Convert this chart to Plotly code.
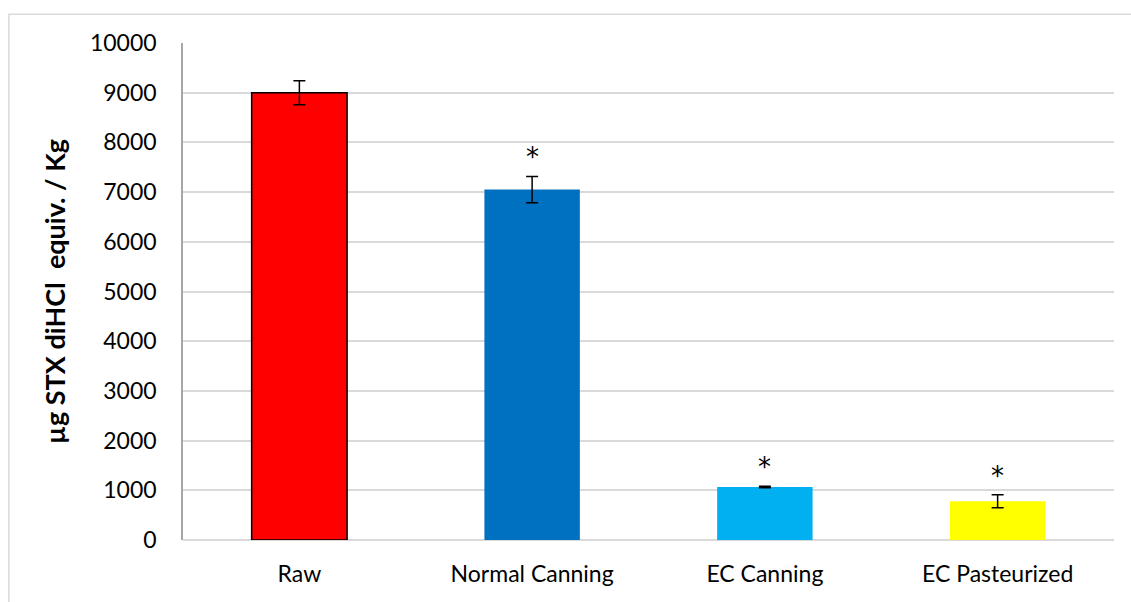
import plotly.graph_objects as go

# Saxitoxin content per treatment
categories = ["Raw", "Normal Canning", "EC Canning", "EC Pasteurized"]
values = [9000, 7050, 1065, 780]
errors = [240, 265, 15, 130]
significant = [False, True, True, True]
colors = ["#FF0000", "#0070C0", "#00B0F0", "#FFFF00"]
outline_widths = [1.5, 0, 0, 0]

y_ticks = list(range(0, 10001, 1000))
y_tick_text = [str(v) for v in y_ticks]

FONT = "Lato"

fig = go.Figure()
fig.add_trace(go.Bar(
    x=categories,
    y=values,
    width=0.41,
    marker=dict(color=colors, line=dict(color="black", width=outline_widths)),
    error_y=dict(type="data", array=errors, visible=True,
                 color="black", thickness=1.5, width=6),
    hoverinfo="x+y",
))

# significance markers above the error bars
for cat, v, e, sig in zip(categories, values, errors, significant):
    if sig:
        fig.add_annotation(x=cat, y=v + e, text="*", showarrow=False,
                           yanchor="middle", yshift=19,
                           font=dict(family="DejaVu Sans", size=26, color="black"))

# outer chart frame
fig.add_shape(type="rect", xref="paper", yref="paper",
              x0=-0.187, x1=1.05, y0=-0.2, y1=1.058,
              line=dict(color="#d9d9d9", width=1.5), fillcolor="rgba(0,0,0,0)",
              layer="below")

fig.update_layout(
    width=1131, height=602,
    margin=dict(l=183, r=17, t=43, b=62),
    paper_bgcolor="white", plot_bgcolor="white",
    showlegend=False,
    font=dict(family=FONT, size=23, color="black"),
    bargap=0.59,
)
fig.update_xaxes(showline=False, ticks="", showgrid=False,
                 tickfont=dict(family=FONT, size=23), ticklabelstandoff=18)
fig.update_yaxes(range=[0, 10000], tickvals=y_ticks, ticktext=y_tick_text,
                 showgrid=True, gridcolor="#d9d9d9", gridwidth=1.5,
                 showline=True, linecolor="#a6a6a6", linewidth=1.5,
                 zeroline=True, zerolinecolor="#d9d9d9", zerolinewidth=1.5,
                 ticks="", tickfont=dict(family=FONT, size=23),
                 ticklabelstandoff=20,
                 title=dict(text="<b>µg STX diHCl  equiv. / Kg</b>",
                            font=dict(family=FONT, size=27), standoff=16))

fig.write_html("out.html")
